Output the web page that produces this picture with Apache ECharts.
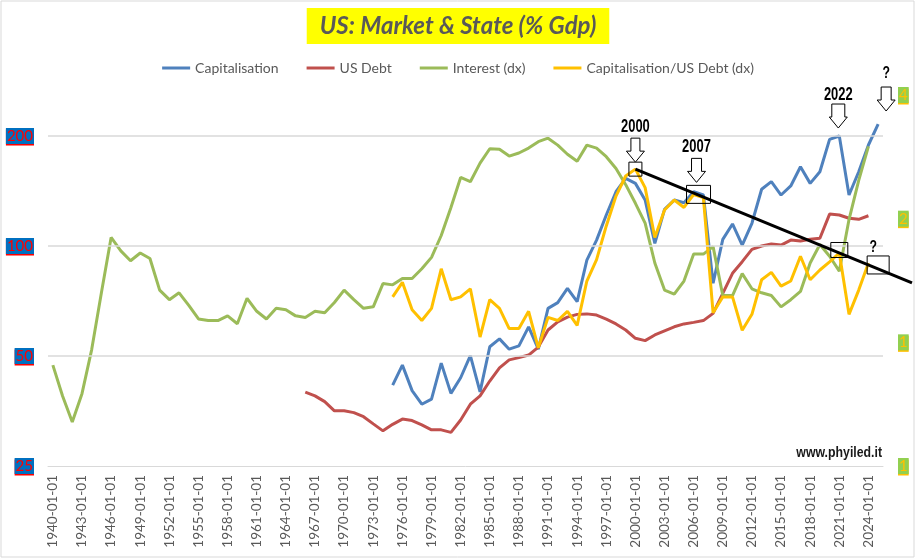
<!DOCTYPE html>
<html>
<head>
<meta charset="UTF-8">
<title>US: Market & State</title>
<script src="https://cdn.jsdelivr.net/npm/echarts@6/dist/echarts.min.js"></script>
<style>
  *{padding:0;margin:0}
  body{background:#fff}
  #chart{width:916px;height:560px}
</style>
</head>
<body>
<div id="chart"></div>
<script>
// anni 1940..2025, etichette come nel foglio excel
var firstYear = 1940, lastYear = 2025;
var categories = [];
for (var y = firstYear; y <= lastYear; y++) categories.push(y + '-01-01');

// Capitalisation (% Gdp), dal 1975
var capStart = 1975;
var capValues = [41.6,47.2,40.2,36.9,38.1,47.8,39.5,43.6,50.1,39.9,
  53.0,55.7,52.2,53.3,60.1,52.2,67.5,70.0,76.6,70.4,
  91.5,103.8,121.6,140.8,153.2,148.4,133.6,101.7,126,133.6,
  131.4,140.8,137.9,79.1,104.3,114.9,100.6,115.4,143,150,
  137.9,146,164.8,148.4,159.7,195.9,200,137.9,159.7,189,
  215.7];

// US Debt (% Gdp), dal 1966
var debtStart = 1966;
var debtValues = [39.8,38.9,37.5,35.4,35.4,35.0,34.1,32.6,31.2,32.5,
  33.6,33.3,32.4,31.4,31.4,30.9,33.4,36.9,38.9,42.7,
  46.4,48.8,49.5,50.3,52.9,58.9,62.0,63.9,65.0,65.2,
  64.7,63.1,61.2,58.9,55.9,55.1,57.1,58.6,60.1,61.2,
  61.8,62.5,65.4,74.2,84.2,90.6,97.9,100,101.3,100.6,
  103.8,103.2,104.3,105,122.3,121.6,119.1,118.3,121];

// Interest (asse dx), dal 1940
var intStart = 1940;
var intValues = [0.88,0.74,0.64,0.75,0.96,1.32,1.80,1.67,1.58,1.65,
  1.60,1.34,1.27,1.32,1.23,1.14,1.13,1.13,1.16,1.11,
  1.28,1.19,1.14,1.21,1.20,1.16,1.15,1.19,1.18,1.25,
  1.34,1.27,1.21,1.22,1.39,1.38,1.43,1.43,1.51,1.61,
  1.82,2.13,2.52,2.46,2.73,2.96,2.95,2.84,2.89,2.97,
  3.08,3.14,3.02,2.87,2.76,3.02,2.97,2.83,2.65,2.42,
  2.18,1.95,1.56,1.34,1.31,1.41,1.64,1.64,1.71,1.30,
  1.30,1.47,1.35,1.32,1.30,1.22,1.27,1.33,1.56,1.73,
  1.62,1.49,1.99,2.48,3.00];

// Capitalisation/US Debt (asse dx), dal 1975
var ratioStart = 1975;
var ratioValues = [1.29,1.40,1.20,1.13,1.21,1.51,1.27,1.29,1.35,1.03,
  1.27,1.21,1.08,1.08,1.19,0.97,1.15,1.13,1.19,1.10,
  1.41,1.59,1.92,2.27,2.54,2.64,2.38,1.80,2.10,2.22,
  2.13,2.29,2.25,1.18,1.29,1.29,1.07,1.17,1.42,1.48,
  1.37,1.41,1.62,1.42,1.50,1.57,1.65,1.17,1.34,1.56];

var leftTicks = [25, 50, 100, 200];
var rightTicks = [0.5, 1, 2, 4];

function fill(start, vals) {
  var out = [];
  for (var i = 0; i < categories.length; i++) {
    var k = firstYear + i - start;
    out.push(k >= 0 && k < vals.length ? vals[k] : null);
  }
  return out;
}

var font = 'Lato, "Open Sans", sans-serif';
var bold = '"Liberation Sans", Arial, sans-serif';

var option = {
  animation: false,
  title: {
    text: 'US: Market & State (% Gdp)',
    left: 'center',
    top: 8,
    backgroundColor: '#FFFF00',
    padding: [6, 13],
    textStyle: {fontFamily: font, fontSize: 24, fontWeight: 'bold', fontStyle: 'italic', color: '#595959'}
  },
  legend: {
    top: 56,
    left: 'center',
    icon: 'rect',
    itemWidth: 28,
    itemHeight: 3,
    itemGap: 28,
    textStyle: {fontFamily: font, fontSize: 14, color: '#595959'},
    data: ['Capitalisation', 'US Debt', 'Interest (dx)', 'Capitalisation/US Debt (dx)']
  },
  grid: {left: 48, right: 33, top: 95, bottom: 94},
  xAxis: {
    type: 'category',
    data: categories,
    boundaryGap: true,
    axisLine: {lineStyle: {color: '#D9D9D9'}},
    axisTick: {interval: 2, length: 5, lineStyle: {color: '#BFBFBF'}},
    axisLabel: {interval: 2, rotate: 90, margin: 9, fontFamily: font, fontSize: 13.5, color: '#595959'}
  },
  yAxis: [{
    type: 'log', logBase: 2, min: 25, max: 259,
    splitLine: {show: false},
    axisLine: {show: false}, axisTick: {show: false},
    axisLabel: {
      customValues: leftTicks, margin: 14,
      fontFamily: font, fontSize: 15, color: '#FF0000',
      backgroundColor: '#0070C0', padding: [1, 1, 0, 1],
      shadowColor: '#FF0000', shadowOffsetY: 1.5, shadowBlur: 0
    }
  }, {
    type: 'log', logBase: 2, min: 0.5, max: 4,
    splitLine: {show: false},
    axisLine: {show: false}, axisTick: {show: false},
    axisLabel: {
      customValues: rightTicks, margin: 15,
      formatter: function (v) { return String(Math.round(v)); },
      fontFamily: font, fontSize: 15, color: '#FFC000',
      backgroundColor: '#92D050', padding: [1, 1, 0, 1],
      shadowColor: '#FFC000', shadowOffsetY: 1.5, shadowBlur: 0
    }
  }],
  series: [{
    // linee di griglia a 50, 100, 200
    type: 'line', yAxisIndex: 0, data: [], z: 1, silent: true,
    markLine: {
      silent: true, symbol: 'none', label: {show: false},
      lineStyle: {color: '#D9D9D9', type: 'solid', width: 1.5},
      data: [{yAxis: 50}, {yAxis: 100}, {yAxis: 200}]
    }
  }, {
    name: 'Capitalisation', type: 'line', yAxisIndex: 0,
    data: fill(capStart, capValues), showSymbol: false,
    lineStyle: {width: 3, color: '#4F81BD'}, itemStyle: {color: '#4F81BD'}
  }, {
    name: 'US Debt', type: 'line', yAxisIndex: 0,
    data: fill(debtStart, debtValues), showSymbol: false,
    lineStyle: {width: 3, color: '#C0504D'}, itemStyle: {color: '#C0504D'}
  }, {
    name: 'Interest (dx)', type: 'line', yAxisIndex: 1,
    data: fill(intStart, intValues), showSymbol: false,
    lineStyle: {width: 3, color: '#9BBB59'}, itemStyle: {color: '#9BBB59'}
  }, {
    name: 'Capitalisation/US Debt (dx)', type: 'line', yAxisIndex: 1,
    data: fill(ratioStart, ratioValues), showSymbol: false,
    lineStyle: {width: 3, color: '#FFC000'}, itemStyle: {color: '#FFC000'}
  }]
};

var chart = echarts.init(document.getElementById('chart'));
chart.setOption(option);

// annotazioni: frecce, riquadri, trend line
function pt(seriesIndex, year, val) {
  return chart.convertToPixel({seriesIndex: seriesIndex}, [year - firstYear, val]);
}
function arrow(cx, tipY, shaftW) {
  var hw = 9, sw = shaftW / 2, hh = 11, sh = 13;
  return {
    type: 'polygon', z: 100,
    shape: {points: [[cx - sw, tipY - hh - sh], [cx + sw, tipY - hh - sh], [cx + sw, tipY - hh],
      [cx + hw, tipY - hh], [cx, tipY], [cx - hw, tipY - hh], [cx - sw, tipY - hh]]},
    style: {fill: '#fff', stroke: '#000', lineWidth: 1}
  };
}
function box(cx, cy, w, h) {
  return {type: 'rect', z: 100, shape: {x: cx - w / 2, y: cy - h / 2, width: w, height: h},
    style: {fill: 'none', stroke: '#000', lineWidth: 1}};
}
// testo stretto tipo "condensed": font normale schiacciato in orizzontale
function label(text, cx, cy, size) {
  return {type: 'text', z: 100, x: cx, y: cy, scaleX: 0.72,
    style: {text: text, fill: '#000', font: 'bold ' + (size || 18) + 'px ' + bold, align: 'center', verticalAlign: 'middle'}};
}

var r2000 = pt(4, 2000, ratioValues[2000 - ratioStart]);
var r2021 = pt(4, 2021, ratioValues[2021 - ratioStart]);
var slope = (r2021[1] - r2000[1]) / (r2021[0] - r2000[0]);
var endX = 912;
var c2006 = pt(1, 2006, capValues[2006 - capStart]);
var c2007 = pt(1, 2007, capValues[2007 - capStart]);
var c2021 = pt(1, 2021, capValues[2021 - capStart]);
var c2025 = pt(1, 2025, capValues[2025 - capStart]);
var q = [c2025[0], r2000[1] + slope * (c2025[0] - r2000[0]) - 4];

chart.setOption({
  graphic: [
    {type: 'rect', shape: {x: 1, y: 1, width: 913, height: 556}, style: {fill: 'none', stroke: '#D9D9D9', lineWidth: 1}},
    {type: 'line', z: 101, shape: {x1: r2000[0], y1: r2000[1], x2: endX, y2: r2000[1] + slope * (endX - r2000[0])},
      style: {stroke: '#000', lineWidth: 3}},
    box(r2000[0], r2000[1], 13, 14),
    arrow(r2000[0], r2000[1] - 7, 9),
    label('2000', r2000[0], r2000[1] - 42),
    box((c2006[0] + c2007[0]) / 2, (c2006[1] + c2007[1]) / 2 + 1, 24, 18),
    arrow((c2006[0] + c2007[0]) / 2 - 2, (c2006[1] + c2007[1]) / 2 - 11, 10),
    label('2007', (c2006[0] + c2007[0]) / 2 - 2, (c2006[1] + c2007[1]) / 2 - 46),
    box(r2021[0], r2021[1] - 3, 17, 15),
    arrow(c2021[0] - 1, c2021[1] - 8, 13),
    label('2022', c2021[0] - 1, c2021[1] - 41),
    box(q[0], q[1], 22, 18),
    label('?', q[0] - 5, q[1] - 18, 17),
    arrow(c2025[0] + 8, c2025[1] - 13, 10),
    label('?', c2025[0] + 8, c2025[1] - 51, 17),
    {type: 'text', z: 100, x: 882, y: 453, scaleX: 0.82,
      style: {text: 'www.phyiled.it', fill: '#1a1a1a', font: 'bold 15px ' + bold, align: 'right', verticalAlign: 'middle'}}
  ]
});
</script>
</body>
</html>
